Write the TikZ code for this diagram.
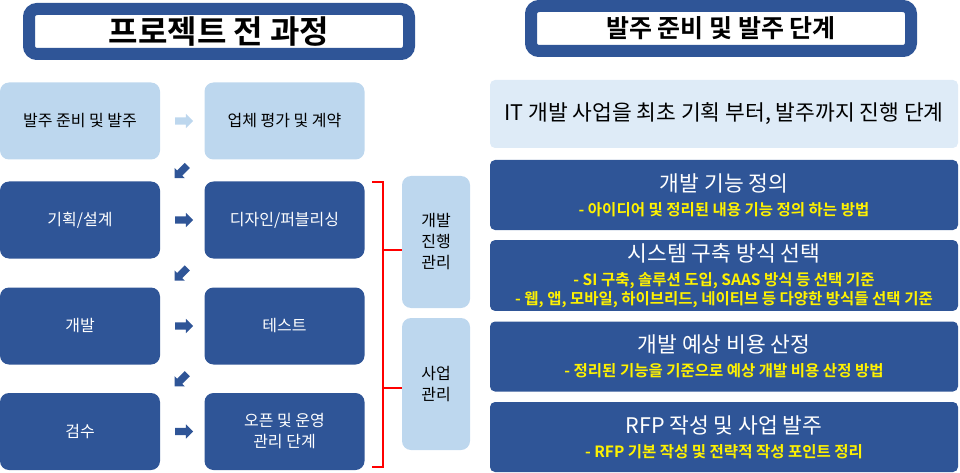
\documentclass[tikz,border=0pt]{standalone}
\usepackage{fontspec}
\setmainfont{Noto Sans CJK KR}[BoldFont={Noto Sans CJK KR Bold}]
\usetikzlibrary{shapes.arrows, calc, positioning}
\definecolor{darkblue}{HTML}{2F5597}
\definecolor{lightblue}{HTML}{BDD7EE}
\definecolor{paleblue}{HTML}{DEEBF7}
\newcommand{\desc}{\fontsize{15.5}{19}\selectfont\bfseries\color{yellow}}
\tikzset{
  titlebox/.style = {draw = darkblue, line width = 12pt, fill = white, rounded corners = 8pt,
                     minimum width = 380pt, minimum height = 45pt},
  stepbox/.style  = {rounded corners = 9pt, minimum width = 160pt, minimum height = 77pt,
                     align = center, font = \fontsize{16}{21}\selectfont},
  lightstep/.style = {stepbox, fill = lightblue, text = black},
  darkstep/.style  = {stepbox, fill = darkblue, text = white},
  mgmtbox/.style  = {lightstep, minimum width = 68pt, minimum height = 132pt},
  infobox/.style  = {rounded corners = 5pt, minimum width = 468pt, minimum height = 70pt,
                     align = center, fill = darkblue, text = white, font = \fontsize{21.5}{19}\selectfont},
  blockarrow/.style = {single arrow, fill = darkblue, inner xsep = 0pt, inner ysep = 3.5pt,
                       single arrow head extend = 3.5pt, minimum height = 18pt},
  bracket/.style  = {draw = red, line width = 2.5pt}
}

\begin{document}
\begin{tikzpicture}[x=1pt, y=-1pt]
\useasboundingbox (0,0) rectangle (960,473);

% Titles
\node[titlebox, font=\fontsize{32}{36}\selectfont\bfseries] (title1) at (219,31.5) {프로젝트 전 과정};
\node[titlebox, font=\fontsize{25}{28}\selectfont\bfseries] (title2) at (721,28.5) {발주 준비 및 발주 단계};

% Left: whole project process
\node[lightstep] (order) at (80,121) {발주 준비 및 발주};
\node[lightstep] (contract) at (284.5,121) {업체 평가 및 계약};
\node[darkstep] (plan) at (80,220) {기획/설계};
\node[darkstep] (design) at (284.5,220) {디자인/퍼블리싱};
\node[darkstep] (dev) at (80,326) {개발};
\node[darkstep] (test) at (284.5,326) {테스트};
\node[darkstep] (review) at (80,431.5) {검수};
\node[darkstep] (open) at (284.5,431.5) {오픈 및 운영\\관리 단계};

% Arrows between steps
\node[blockarrow, fill=lightblue] (a-order) at ($(order.east)!0.5!(contract.west)$) {};
\foreach \l/\r in {plan/design, dev/test, review/open} {
    \node[blockarrow] (a-\l) at ($(\l.east)!0.5!(\r.west)$) {};
}
\foreach \u/\d in {contract/plan, design/dev, test/review} {
    \node[blockarrow, rotate=225] (d-\d) at ($(\u.south west)!0.5!(\d.north east)$) {};
}

% Management
\node[mgmtbox] (devmgmt) at (436,242) {개발\\진행\\관리};
\node[mgmtbox] (bizmgmt) at (436,384) {사업\\관리};
\draw[bracket] (372,182) -- (383,182) -- (383,467) -- (372,467);
\draw[bracket] (383,250) -- (devmgmt.west |- 383,250);
\draw[bracket] (383,388) -- (bizmgmt.west |- 383,388);

% Right: ordering stage
\node[infobox, fill=paleblue, text=black, minimum height=68pt] (scope) at (724,114) {IT 개발 사업을 최초 기획 부터, 발주까지 진행 단계};
\node[infobox] (func) at (724,195) {개발 기능 정의\\[5pt]{\desc - 아이디어 및 정리된 내용 기능 정의 하는 방법}};
\node[infobox] (system) at (724,275.5) {시스템 구축 방식 선택\\[5pt]{\desc - SI 구축, 솔루션 도입, SAAS 방식 등 선택 기준}\\{\desc - 웹, 앱, 모바일, 하이브리드, 네이티브 등 다양한 방식들 선택 기준}};
\node[infobox] (cost) at (724,356.5) {개발 예상 비용 산정\\[5pt]{\desc - 정리된 기능을 기준으로 예상 개발 비용 산정 방법}};
\node[infobox] (rfp) at (724,437) {RFP 작성 및 사업 발주\\[5pt]{\desc - RFP 기본 작성 및 전략적 작성 포인트 정리}};
\end{tikzpicture}
\end{document}
